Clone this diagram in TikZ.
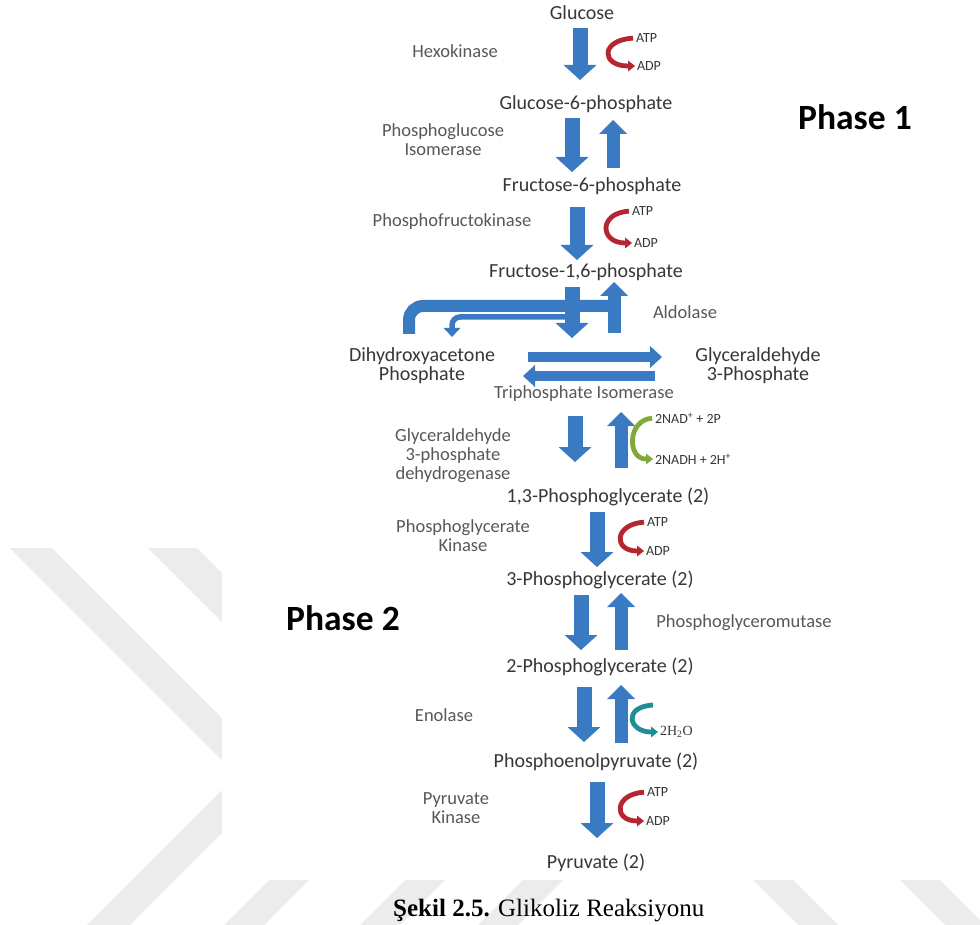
\documentclass[tikz,border=0pt]{standalone}
\usepackage{fontspec}
\setmainfont{Carlito}
\newfontfamily\capfont{Liberation Serif}
\usetikzlibrary{arrows.meta}
\definecolor{ablue}{RGB}{58,122,194}
\definecolor{cred}{RGB}{180,38,48}
\definecolor{cgreen}{RGB}{128,170,58}
\definecolor{cteal}{RGB}{32,142,150}
\definecolor{metab}{RGB}{55,55,55}
\definecolor{enzc}{RGB}{88,88,88}
\definecolor{wm}{RGB}{236,236,236}
\begin{document}
\begin{tikzpicture}[x=1pt,y=-1pt,
  met/.style={font=\fontsize{20}{19}\selectfont, text=metab, inner sep=0pt, outer sep=0pt, text height=14pt, text depth=4pt},
  met2/.style={font=\fontsize{20}{19}\selectfont, text=metab, inner sep=0pt, outer sep=0pt, align=center},
  enzbase/.style={font=\fontsize{18.5}{19}\selectfont, text=enzc, inner sep=0pt, outer sep=0pt},
  enz/.style={enzbase, align=center},
  enz1/.style={enzbase, text height=12.5pt, text depth=3.5pt},
  phase/.style={font=\bfseries\fontsize{35.5}{40}\selectfont, text=black, inner sep=0pt},
  sm/.style={font=\fontsize{14}{16}\selectfont, text=metab, inner sep=0pt, outer sep=0pt, anchor=west},
  smserif/.style={font=\capfont\fontsize{14}{16}\selectfont, text=metab, inner sep=0pt, outer sep=0pt, anchor=west},
  dn/.style={draw=ablue, line width=15pt, -{Triangle[width=33pt,length=15pt,line width=0pt]}},
  upa/.style={draw=ablue, line width=13pt, -{Triangle[width=28pt,length=14pt,line width=0pt]}},
  hz/.style={draw=ablue, line width=10pt, -{Triangle[width=22pt,length=12pt,line width=0pt]}},
  cof/.style={line width=4.8pt, -{Triangle[width=11pt,length=7pt,line width=0pt]}},
  capt/.style={font=\capfont\fontsize{25}{27}\selectfont, text=black, inner sep=0pt, anchor=north west}
]
\clip (0,0) rectangle (980,925);
\fill[white] (0,0) rectangle (980,925);
% watermark bands
\fill[wm] (10,548) -- (52,548) -- (302,798) -- (260,798) -- cycle;
\fill[wm] (148,548) -- (197,548) -- (297,648) -- (248,648) -- cycle;
\fill[wm] (87,925) -- (130,925) -- (293,762) -- (250,762) -- cycle;
\fill[wm] (224,925) -- (264,925) -- (314,875) -- (274,875) -- cycle;
\fill[wm] (360,925) -- (400,925) -- (450,875) -- (410,875) -- cycle;
\fill[wm] (478,925) -- (518,925) -- (568,875) -- (528,875) -- cycle;
\fill[wm] (748,875) -- (788,875) -- (838,925) -- (798,925) -- cycle;
\fill[wm] (895,875) -- (935,875) -- (985,925) -- (945,925) -- cycle;
\fill[white] (222,0) rectangle (980,880);

% metabolites
\node[met] (glc) at (582,15) {Glucose};
\node[met] (g6p) at (586,105) {Glucose-6-phosphate};
\node[met] (f6p) at (592,187) {Fructose-6-phosphate};
\node[met] (f16p) at (586,273) {Fructose-1,6-phosphate};
\node[met2] (dhap) at (422,366) {Dihydroxyacetone\\Phosphate};
\node[met2] (gap) at (758,366) {Glyceraldehyde\\3-Phosphate};
\node[met] (bpg) at (608,497) {1,3-Phosphoglycerate (2)};
\node[met] (pg3) at (600,580) {3-Phosphoglycerate (2)};
\node[met] (pg2) at (600,667) {2-Phosphoglycerate (2)};
\node[met] (pep) at (596,762) {Phosphoenolpyruvate (2)};
\node[met] (pyr) at (596,863) {Pyruvate (2)};

% enzymes
\node[enz] (hk) at (455,51) {Hexokinase};
\node[enz] (pgi) at (443,140) {Phosphoglucose\\Isomerase};
\node[enz] (pfk) at (452,222) {Phosphofructokinase};
\node[enz] (ald) at (685,312) {Aldolase};
\node[enz1] (tpi) at (584,394) {Triphosphate Isomerase};
\node[enz] (gapdh) at (453,456) {Glyceraldehyde\\3-phosphate\\dehydrogenase};
\node[enz] (pgk) at (463,536) {Phosphoglycerate\\Kinase};
\node[enz] (pgm) at (744,623) {Phosphoglyceromutase};
\node[enz] (eno) at (444,715) {Enolase};
\node[enz] (pk) at (456,808) {Pyruvate\\Kinase};

% phases
\node[phase] (ph1) at (855,117) {Phase 1};
\node[phase] (ph2) at (343,618) {Phase 2};

% cofactor labels
\node[sm] (atp1) at (636,38) {ATP};
\node[sm] (adp1) at (637,66) {ADP};
\node[sm] (atp2) at (632,211) {ATP};
\node[sm] (adp2) at (634,243) {ADP};
\node[sm] (nad) at (655,418) {2NAD\textsuperscript{+} + 2P};
\node[sm] (nadh) at (655,459) {2NADH + 2H\textsuperscript{+}};
\node[sm] (atp3) at (647,522) {ATP};
\node[sm] (adp3) at (646,551) {ADP};
\node[smserif] (h2o) at (660,732) {2H\textsubscript{2}O};
\node[sm] (atp4) at (647,792) {ATP};
\node[sm] (adp4) at (646,821) {ADP};
\coordinate (wat) at (653,705);

% aldolase bent bars
\coordinate (aldoD) at (572,338);
\coordinate (aldoU) at (614,333);
\coordinate (thinS) at (572,317);
\draw[ablue, line width=12pt, rounded corners=14pt] (dhap.north -| 409,0) ++(0,-14) -- (409,306) -- (608,306);
\draw[ablue, line width=5.5pt, rounded corners=8pt, -{Triangle[width=17pt,length=9pt,line width=0pt]}, shorten >=11pt] (thinS) -- (452,317) -- (dhap.north -| 452,0);

% vertical arrows
\draw[dn, shorten <=4pt, shorten >=16pt] (glc.south -| 580,0) -- (g6p.north -| 580,0);
\draw[dn, shorten <=4pt, shorten >=6pt] (g6p.south -| 572,0) -- (f6p.north -| 572,0);
\draw[upa, shorten <=10pt, shorten >=6pt] (f6p.north -| 613,0) -- (g6p.south -| 613,0);
\draw[dn, shorten <=11pt, shorten >=4pt] (f6p.south -| 577,0) -- (f16p.north -| 577,0);
\draw[dn, shorten <=5pt] (f16p.south -| 572,0) -- (aldoD);
\draw[upa] (aldoU) -- (f16p.south -| 614,0);
\draw[dn, shorten <=14pt, shorten >=26pt] (tpi.south -| 575,0) -- (bpg.north -| 575,0);
\draw[upa, shorten <=20pt, shorten >=10pt] (bpg.north -| 621,0) -- (tpi.south -| 621,0);
\draw[dn, shorten <=6pt, shorten >=4pt] (bpg.south -| 597,0) -- (pg3.north -| 597,0);
\draw[dn, shorten <=6pt, shorten >=8pt] (pg3.south -| 581,0) -- (pg2.north -| 581,0);
\draw[upa, shorten <=8pt, shorten >=4pt] (pg2.north -| 621,0) -- (pg3.south -| 621,0);
\draw[dn, shorten <=11pt, shorten >=11pt] (pg2.south -| 584,0) -- (pep.north -| 584,0);
\draw[upa, shorten <=10pt, shorten >=9pt] (pep.north -| 621,0) -- (pg2.south -| 621,0);
\draw[dn, shorten <=11pt, shorten >=16pt] (pep.south -| 597,0) -- (pyr.north -| 597,0);

% triose phosphate isomerase arrows
\coordinate (tr1) at (528,357);
\coordinate (tr2) at (662,357);
\coordinate (tl1) at (655,376);
\coordinate (tl2) at (523,376);
\draw[hz] (tr1) -- (tr2);
\draw[hz] (tl1) -- (tl2);

% cofactor curves
\draw[cof, cred, shorten <=3pt, shorten >=2pt] (atp1.west) .. controls +(-36,2) and +(-36,0) .. (adp1.west);
\draw[cof, cred, shorten <=3pt, shorten >=2pt] (atp2.west) .. controls +(-34,2) and +(-34,0) .. (adp2.west);
\draw[cof, cgreen, shorten <=3pt, shorten >=2pt] (nad.west) .. controls +(-28,2) and +(-28,0) .. (nadh.west);
\draw[cof, cred, shorten <=3pt, shorten >=2pt] (atp3.west) .. controls +(-33,2) and +(-33,0) .. (adp3.west);
\draw[cof, cteal, shorten >=2pt] (wat) .. controls +(-31,2) and +(-31,0) .. (h2o.west);
\draw[cof, cred, shorten <=3pt, shorten >=2pt] (atp4.west) .. controls +(-33,2) and +(-33,0) .. (adp4.west);

% caption
\node[capt] (cap) at (393,899) {\textbf{Şekil 2.5.} Glikoliz Reaksiyonu};
\end{tikzpicture}
\end{document}
